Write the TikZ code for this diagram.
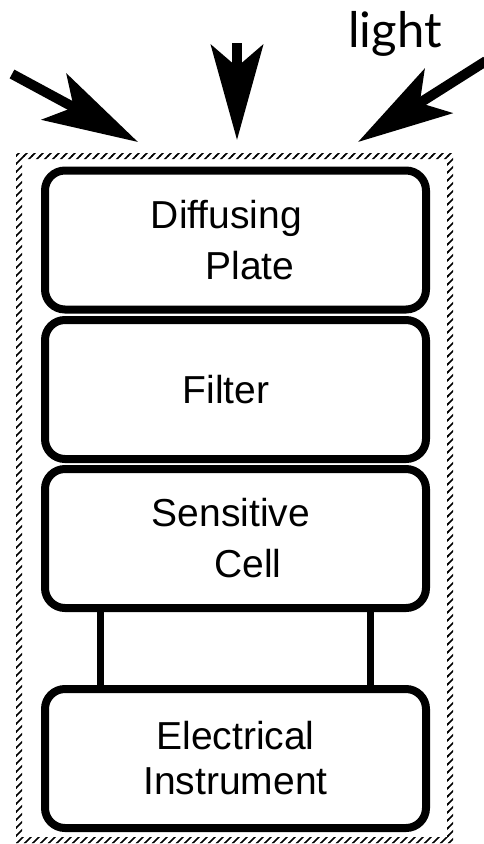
\documentclass[tikz,border=0pt]{standalone}
\usepackage{fontspec}
\setmainfont{Liberation Sans}
\newfontfamily\lightfont{Lato}
\usetikzlibrary{arrows.meta,patterns.meta}

\tikzdeclarepattern{
  name=hatch,
  type=uncolored,
  bottom left={(-1pt,-1pt)},
  top right={(9pt,9pt)},
  tile size={(8pt,8pt)},
  code={\draw[line width=1.6pt] (-1pt,-1pt) -- (9pt,9pt);}
}

\begin{document}
\begin{tikzpicture}[x=1pt, y=-1pt,
    part/.style={draw, line width=8pt, rounded corners=20pt, minimum width=381pt, minimum height=139pt, align=left, font=\fontsize{39}{51}\selectfont},
    lead/.style={line width=7pt},
    ray/.style={line width=10pt, -{Stealth[length=95pt 0, width=52pt 0, inset=22pt 0]}}
]
\useasboundingbox (0,0) rectangle (483,844);

% hatched housing
\fill[pattern=hatch, pattern color=black, even odd rule] (16,153) rectangle (453,843) (22,159) rectangle (447,837);

\node[part] (plate) at (235.5,240) {Diffusing\hspace*{18pt}\\\hspace*{1.4em}Plate};
\node[part] (filter) at (235.5,389.5) {Filter\hspace*{19pt}};
\node[part] (cell) at (235.5,538.5) {Sensitive\hspace*{9pt}\\\hspace*{1.6em}Cell};
\node[part, align=center] (meter) at (235.5,758.5) {Electrical\\[-6pt]Instrument};

\draw[lead] ([xshift=-135.5pt]cell.south) -- ([xshift=-135.5pt]meter.north);
\draw[lead] ([xshift=134.5pt]cell.south) -- ([xshift=134.5pt]meter.north);

% incoming light
\node[font=\lightfont\fontsize{49}{49}\selectfont, anchor=base west, inner sep=0] (light) at (348,47) {light};
\coordinate (srcL) at (12,74);
\coordinate (srcM) at (237,43);
\coordinate (srcR) at (486,61);
\coordinate (hitL) at (138,142);
\coordinate (hitM) at (237,140);
\coordinate (hitR) at (358,142);
\draw[ray] (srcL) -- (hitL);
\draw[ray] (srcM) -- (hitM);
\draw[ray] (srcR) -- (hitR);
\end{tikzpicture}
\end{document}
